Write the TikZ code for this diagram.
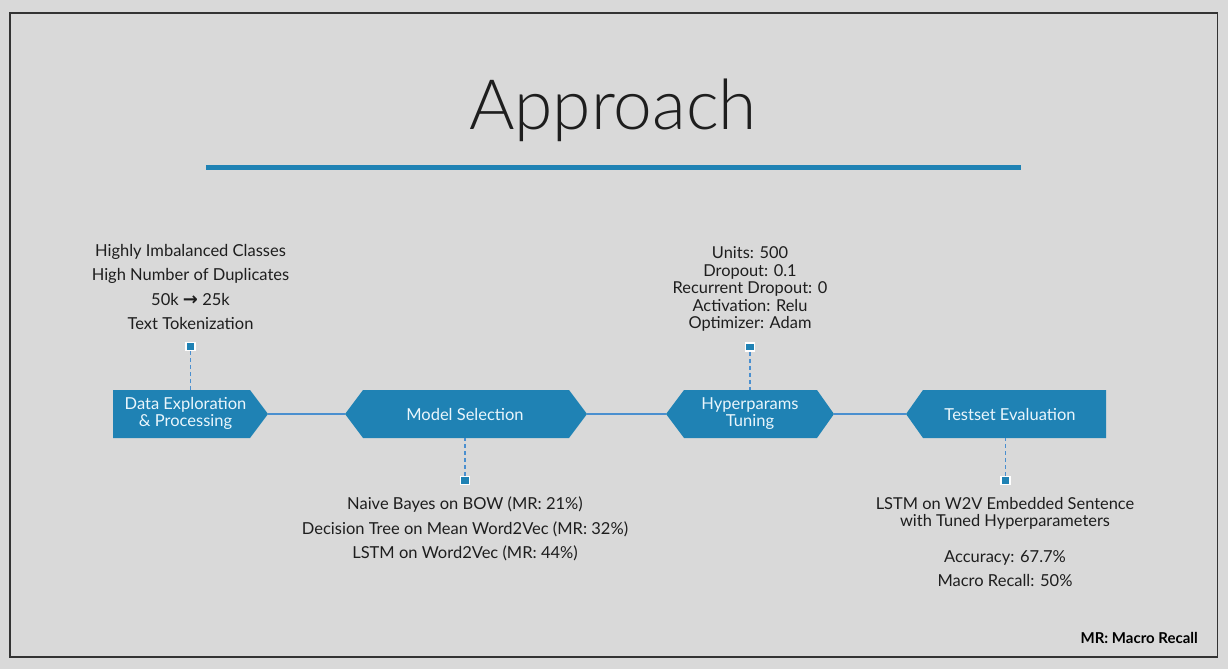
\documentclass[tikz,border=0pt]{standalone}
\usepackage{fontspec}
\setmainfont{Lato}
\newfontfamily\titlefont{Lato Light}
\newfontfamily\symbolfont{DejaVu Sans}
\usetikzlibrary{calc}
\definecolor{bg}{HTML}{D9D9D9}
\definecolor{stageblue}{HTML}{1F82B4}
\definecolor{linkblue}{HTML}{4A8FCF}
\definecolor{inktext}{HTML}{1E1E1E}
\definecolor{stagetext}{HTML}{EAF6FC}
\tikzset{
  stagearea/.style={minimum height=48pt, inner sep=0pt, outer sep=0pt},
  stagelabel/.style={text=stagetext, font=\fontsize{16.5}{17}\selectfont, align=center, inner sep=0pt},
  stagefill/.style={fill=stageblue, draw=none},
  link/.style={draw=linkblue, line width=2pt},
  dashlink/.style={draw=linkblue, line width=1.6pt, dash pattern=on 4pt off 3pt},
  marker/.style={fill=stageblue, draw=white, line width=1.5pt, minimum width=9pt, minimum height=8pt, inner sep=0pt},
  note/.style={text=inktext, font=\fontsize{16.5}{24.5}\selectfont, align=center, inner sep=0pt},
  notetight/.style={text=inktext, font=\fontsize{16.4}{17.5}\selectfont, align=center, inner sep=0pt}
}
\begin{document}
\begin{tikzpicture}[x=1pt,y=-1pt]
  % page and frame
  \fill[bg] (0,0) rectangle (1228,669);
  \useasboundingbox (0,0) rectangle (1228,669);
  \draw[draw=black!80, line width=1.2pt] (10,13) rectangle (1217.5,657);

  % heading
  \node[text=inktext, font=\titlefont\fontsize{69.5}{72}\selectfont, inner sep=0pt] (title) at (613,110) {Approach};
  \fill[stageblue] (206,164.5) rectangle (1021,169.5);

  % stage shapes (text-free areas spanning tip to tip)
  \node[stagearea, minimum width=155pt] (data) at (190.5,414) {};
  \node[stagearea, minimum width=242pt] (model) at (466,414) {};
  \node[stagearea, minimum width=168pt] (hyper) at (750,414) {};
  \node[stagearea, minimum width=200pt] (test) at (1006,414) {};

  \path[stagefill] (data.north west) -- ([xshift=-18pt]data.north east) -- (data.east)
    -- ([xshift=-18pt]data.south east) -- (data.south west) -- cycle;
  \path[stagefill] (model.west) -- ([xshift=18pt]model.north west) -- ([xshift=-18pt]model.north east)
    -- (model.east) -- ([xshift=-18pt]model.south east) -- ([xshift=18pt]model.south west) -- cycle;
  \path[stagefill] (hyper.west) -- ([xshift=18pt]hyper.north west) -- ([xshift=-17pt]hyper.north east)
    -- (hyper.east) -- ([xshift=-17pt]hyper.south east) -- ([xshift=18pt]hyper.south west) -- cycle;
  \path[stagefill] (test.west) -- ([xshift=17pt]test.north west) -- (test.north east)
    -- (test.south east) -- ([xshift=17pt]test.south west) -- cycle;

  \node[stagelabel] (dataT) at (185.5,413.5) {Data Exploration\\\& Processing};
  \node[stagelabel] (modelT) at (465,414) {Model Selection};
  \node[stagelabel] (hyperT) at (750,413.5) {Hyperparams\\Tuning};
  \node[stagelabel] (testT) at (1010,414) {Testset Evaluation};

  % links between stages
  \draw[link] (data.east) -- (model.west);
  \draw[link] (model.east) -- (hyper.west);
  \draw[link] (hyper.east) -- (test.west);

  % markers and dashed leaders
  \node[marker] (mData) at (190.5,346.5) {};
  \node[marker] (mModel) at (465,480.5) {};
  \node[marker] (mHyper) at (750,347) {};
  \node[marker] (mTest) at (1005.5,480.5) {};

  \draw[dashlink] (mData.south) -- (mData.south |- data.north);
  \draw[dashlink] (mModel.north) -- (mModel.north |- model.south);
  \draw[dashlink] (mHyper.south) -- (mHyper.south |- hyper.north);
  \draw[dashlink] (mTest.north) -- (mTest.north |- test.south);

  % notes
  \node[note, anchor=south] (dataN) at (190.5,330) {Highly Imbalanced Classes\\High Number of Duplicates\\50k {\symbolfont\bfseries\fontsize{18}{18}\selectfont →} 25k\\Text Tokenization};
  \node[notetight, anchor=south] (hyperN) at (750,332) {Units: 500\\Dropout: 0.1\\Recurrent Dropout: 0\\Activation: Relu\\Optimizer: Adam};
  \node[note, anchor=north] (modelN) at (465,496.5) {Naive Bayes on BOW (MR: 21\%)\\Decision Tree on Mean Word2Vec (MR: 32\%)\\LSTM on Word2Vec (MR: 44\%)};
  \node[notetight, anchor=north] (testN) at (1005,497) {LSTM on W2V Embedded Sentence\\with Tuned Hyperparameters};
  \node[note, anchor=north] (testM) at (1005,550) {Accuracy: 67.7\%\\Macro Recall: 50\%};

  % legend
  \node[text=black, font=\bfseries\fontsize{15}{17}\selectfont, anchor=east, inner sep=0pt] (legend) at (1198,638) {MR: Macro Recall};
\end{tikzpicture}
\end{document}
